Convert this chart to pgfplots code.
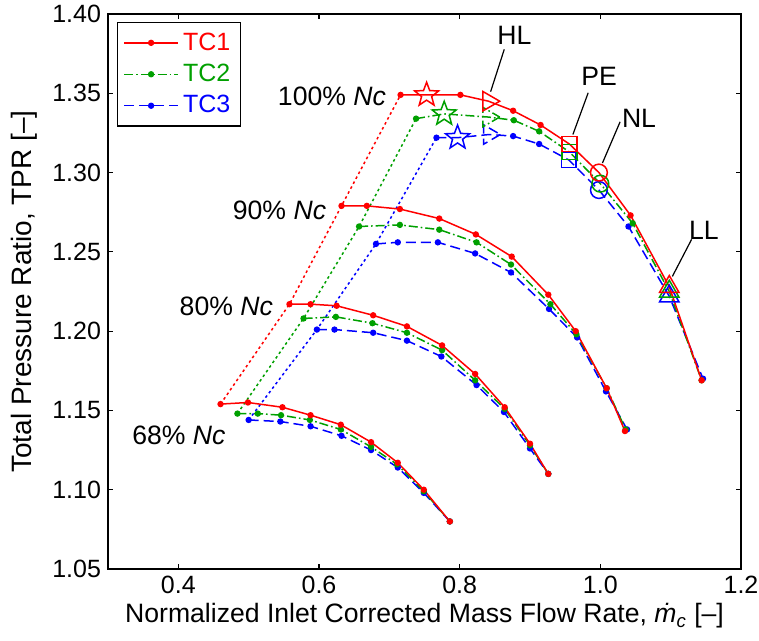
\documentclass[border=0pt]{standalone}
\usepackage{fontspec}
\setmainfont{Liberation Sans}
\usepackage{pgfplots}
\pgfplotsset{compat=1.18}
\usetikzlibrary{calc}
\definecolor{tcr}{RGB}{255,0,0}
\definecolor{tcg}{RGB}{0,160,0}
\definecolor{tcb}{RGB}{0,0,255}

\pgfdeclareplotmark{pstar}{%
  \pgfpathmoveto{\pgfpointpolar{90}{\pgfplotmarksize}}%
  \pgfpathlineto{\pgfpointpolar{126}{0.42\pgfplotmarksize}}%
  \pgfpathlineto{\pgfpointpolar{162}{\pgfplotmarksize}}%
  \pgfpathlineto{\pgfpointpolar{198}{0.42\pgfplotmarksize}}%
  \pgfpathlineto{\pgfpointpolar{234}{\pgfplotmarksize}}%
  \pgfpathlineto{\pgfpointpolar{270}{0.42\pgfplotmarksize}}%
  \pgfpathlineto{\pgfpointpolar{306}{\pgfplotmarksize}}%
  \pgfpathlineto{\pgfpointpolar{342}{0.42\pgfplotmarksize}}%
  \pgfpathlineto{\pgfpointpolar{18}{\pgfplotmarksize}}%
  \pgfpathlineto{\pgfpointpolar{54}{0.42\pgfplotmarksize}}%
  \pgfpathclose\pgfusepathqstroke}

\pgfplotsset{
  tc1/.style={color=tcr, line width=0.75pt, solid},
  tc2/.style={color=tcg, line width=0.75pt, dash pattern=on 4.5pt off 1.5pt on 0.8pt off 1.5pt},
  tc3/.style={color=tcb, line width=0.75pt, dash pattern=on 5pt off 2.5pt},
  ln/.style={no markers, forget plot},
  dots/.style={only marks, mark=*, mark size=1.2pt, mark options={solid}, forget plot},
  surge/.style={no markers, line width=0.75pt, dash pattern=on 1.3pt off 1.5pt, forget plot},
  spec/.style={only marks, mark options={solid, line width=0.75pt, fill=none}, forget plot},
}

\begin{document}
\begin{tikzpicture}
\begin{axis}[
  scale only axis, width=316.5pt, height=277.5pt,
  xmin=0.3, xmax=1.2, ymin=1.05, ymax=1.40,
  xtick={0.4,0.6,0.8,1.0,1.2},
  ytick={1.05,1.10,1.15,1.20,1.25,1.30,1.35,1.40},
  xticklabel style={/pgf/number format/.cd, fixed, fixed zerofill, precision=1, assume math mode=true},
  yticklabel style={/pgf/number format/.cd, fixed, fixed zerofill, precision=2, assume math mode=true},
  tick align=inside, major tick length=2.5pt,
  axis line style={line width=0.8pt},
  every tick/.style={black, line width=0.6pt},
  ticklabel style={font=\fontsize{12.5}{14}\selectfont},
  xlabel={Normalized Inlet Corrected Mass Flow Rate, \textit{\.{m}}\textsubscript{\textit{c}} [--]},
  ylabel={Total Pressure Ratio, TPR [--]},
  xlabel style={font=\fontsize{13.3}{15}\selectfont, yshift=2pt},
  ylabel style={font=\fontsize{14}{16}\selectfont, yshift=0.5pt},
  legend style={at={(axis description cs:0,1)}, anchor=north west, xshift=4.5pt, yshift=-4pt,
    font=\fontsize{12.5}{14}\selectfont, draw=black, line width=0.6pt, row sep=1.5pt, inner sep=3pt},
  legend cell align=left,
  legend image code/.code={\draw[mark repeat=2,mark phase=2] plot coordinates {(0cm,0cm) (0.47cm,0cm) (0.95cm,0cm)};},
]
\addlegendimage{tc1, mark=*, mark size=1.2pt, mark options={solid}}
\addlegendentry{\textcolor{tcr}{TC1}}
\addlegendimage{tc2, mark=*, mark size=1.2pt, mark options={solid}}
\addlegendentry{\textcolor{tcg}{TC2}}
\addlegendimage{tc3, mark=*, mark size=1.2pt, mark options={solid}}
\addlegendentry{\textcolor{tcb}{TC3}}

% ---------- TC3 ----------
\addplot[surge, tcb] coordinates {(0.500,1.144)(0.597,1.201)(0.681,1.255)(0.767,1.322)};
\addplot[tc3, ln] coordinates {(0.500,1.144)(0.545,1.143)(0.588,1.140)(0.632,1.134)(0.674,1.125)(0.712,1.114)(0.749,1.098)(0.786,1.080)};
\addplot[tc3, dots] coordinates {(0.500,1.144)(0.545,1.143)(0.588,1.140)(0.632,1.134)(0.674,1.125)(0.712,1.114)(0.749,1.098)(0.786,1.080)};
\addplot[tc3, ln] coordinates {(0.597,1.201)(0.622,1.201)(0.677,1.199)(0.725,1.194)(0.774,1.184)(0.824,1.166)(0.863,1.149)(0.900,1.126)(0.926,1.110)};
\addplot[tc3, dots] coordinates {(0.597,1.201)(0.622,1.201)(0.677,1.199)(0.725,1.194)(0.774,1.184)(0.824,1.166)(0.863,1.149)(0.900,1.126)(0.926,1.110)};
\addplot[tc3, ln] coordinates {(0.681,1.255)(0.712,1.256)(0.769,1.256)(0.822,1.249)(0.873,1.237)(0.927,1.214)(0.967,1.196)(1.008,1.162)(1.038,1.138)};
\addplot[tc3, dots] coordinates {(0.681,1.255)(0.712,1.256)(0.769,1.256)(0.822,1.249)(0.873,1.237)(0.927,1.214)(0.967,1.196)(1.008,1.162)(1.038,1.138)};
\addplot[tc3, ln] coordinates {(0.767,1.322)(0.797,1.322)(0.842,1.324)(0.876,1.323)(0.913,1.318)(0.955,1.308)(0.998,1.289)(1.040,1.266)(1.098,1.222)(1.146,1.170)};
\addplot[tc3, dots] coordinates {(0.767,1.322)(0.876,1.323)(0.913,1.318)(1.040,1.266)(1.146,1.170)};
\addplot[tc3, spec, mark=pstar, mark size=6.3pt] coordinates {(0.797,1.322)};
\addplot[tc3, spec, mark=triangle, mark size=5.6pt, mark options={rotate=-90}] coordinates {(0.842,1.324)};
\addplot[tc3, spec, mark=square, mark size=3.7pt] coordinates {(0.955,1.308)};
\addplot[tc3, spec, mark=o, mark size=4.2pt] coordinates {(0.998,1.289)};
\addplot[tc3, spec, mark=triangle, mark size=5.6pt] coordinates {(1.098,1.222)};

% ---------- TC2 ----------
\addplot[surge, tcg] coordinates {(0.484,1.148)(0.578,1.208)(0.657,1.266)(0.738,1.334)};
\addplot[tc2, ln] coordinates {(0.484,1.148)(0.513,1.148)(0.546,1.147)(0.587,1.144)(0.631,1.138)(0.674,1.127)(0.711,1.116)(0.749,1.099)(0.786,1.080)};
\addplot[tc2, dots] coordinates {(0.484,1.148)(0.513,1.148)(0.546,1.147)(0.587,1.144)(0.631,1.138)(0.674,1.127)(0.711,1.116)(0.749,1.099)(0.786,1.080)};
\addplot[tc2, ln] coordinates {(0.578,1.208)(0.624,1.209)(0.676,1.205)(0.725,1.199)(0.775,1.188)(0.822,1.169)(0.864,1.151)(0.900,1.128)(0.926,1.110)};
\addplot[tc2, dots] coordinates {(0.578,1.208)(0.624,1.209)(0.676,1.205)(0.725,1.199)(0.775,1.188)(0.822,1.169)(0.864,1.151)(0.900,1.128)(0.926,1.110)};
\addplot[tc2, ln] coordinates {(0.657,1.266)(0.715,1.267)(0.771,1.264)(0.824,1.256)(0.873,1.242)(0.929,1.217)(0.966,1.198)(1.009,1.164)(1.036,1.138)};
\addplot[tc2, dots] coordinates {(0.657,1.266)(0.715,1.267)(0.771,1.264)(0.824,1.256)(0.873,1.242)(0.929,1.217)(0.966,1.198)(1.009,1.164)(1.036,1.138)};
\addplot[tc2, ln] coordinates {(0.738,1.334)(0.778,1.337)(0.841,1.335)(0.877,1.333)(0.913,1.326)(0.956,1.313)(1.000,1.293)(1.046,1.268)(1.098,1.225)(1.144,1.169)};
\addplot[tc2, dots] coordinates {(0.738,1.334)(0.877,1.333)(0.913,1.326)(1.046,1.268)(1.144,1.169)};
\addplot[tc2, spec, mark=pstar, mark size=6.3pt] coordinates {(0.778,1.337)};
\addplot[tc2, spec, mark=triangle, mark size=5.6pt, mark options={rotate=-90}] coordinates {(0.841,1.335)};
\addplot[tc2, spec, mark=square, mark size=3.7pt] coordinates {(0.956,1.313)};
\addplot[tc2, spec, mark=o, mark size=4.2pt] coordinates {(1.000,1.293)};
\addplot[tc2, spec, mark=triangle, mark size=5.6pt] coordinates {(1.098,1.225)};

% ---------- TC1 ----------
\addplot[surge, tcr] coordinates {(0.460,1.154)(0.558,1.217)(0.632,1.279)(0.716,1.349)};
\addplot[tc1, ln] coordinates {(0.460,1.154)(0.499,1.155)(0.548,1.152)(0.588,1.147)(0.631,1.141)(0.674,1.130)(0.712,1.117)(0.749,1.100)(0.786,1.080)};
\addplot[tc1, dots] coordinates {(0.460,1.154)(0.499,1.155)(0.548,1.152)(0.588,1.147)(0.631,1.141)(0.674,1.130)(0.712,1.117)(0.749,1.100)(0.786,1.080)};
\addplot[tc1, ln] coordinates {(0.558,1.217)(0.588,1.217)(0.625,1.216)(0.677,1.210)(0.725,1.203)(0.775,1.191)(0.822,1.173)(0.864,1.152)(0.900,1.129)(0.926,1.110)};
\addplot[tc1, dots] coordinates {(0.558,1.217)(0.588,1.217)(0.625,1.216)(0.677,1.210)(0.725,1.203)(0.775,1.191)(0.822,1.173)(0.864,1.152)(0.900,1.129)(0.926,1.110)};
\addplot[tc1, ln] coordinates {(0.632,1.279)(0.668,1.279)(0.715,1.277)(0.771,1.271)(0.823,1.261)(0.874,1.247)(0.926,1.223)(0.965,1.200)(1.009,1.164)(1.035,1.137)};
\addplot[tc1, dots] coordinates {(0.632,1.279)(0.668,1.279)(0.715,1.277)(0.771,1.271)(0.823,1.261)(0.874,1.247)(0.926,1.223)(0.965,1.200)(1.009,1.164)(1.035,1.137)};
\addplot[tc1, ln] coordinates {(0.716,1.349)(0.753,1.349)(0.801,1.349)(0.841,1.345)(0.876,1.339)(0.915,1.330)(0.956,1.318)(0.998,1.300)(1.043,1.273)(1.098,1.228)(1.144,1.169)};
\addplot[tc1, dots] coordinates {(0.716,1.349)(0.801,1.349)(0.876,1.339)(0.915,1.330)(1.043,1.273)(1.144,1.169)};
\addplot[tc1, spec, mark=pstar, mark size=6.3pt] coordinates {(0.753,1.349)};
\addplot[tc1, spec, mark=triangle, mark size=5.6pt, mark options={rotate=-90}] coordinates {(0.841,1.345)};
\addplot[tc1, spec, mark=square, mark size=3.7pt] coordinates {(0.956,1.318)};
\addplot[tc1, spec, mark=o, mark size=4.2pt] coordinates {(0.998,1.300)};
\addplot[tc1, spec, mark=triangle, mark size=5.6pt] coordinates {(1.098,1.228)};

% ---------- annotations ----------
\draw[black, line width=0.6pt] (axis cs:0.8634,1.3777) -- (axis cs:0.8440,1.3510);
\draw[black, line width=0.6pt] (axis cs:0.9827,1.3503) -- (axis cs:0.9610,1.3240);
\draw[black, line width=0.6pt] (axis cs:1.0281,1.3320) -- (axis cs:1.0030,1.3060);
\draw[black, line width=0.6pt] (axis cs:1.1298,1.2579) -- (axis cs:1.1024,1.2345);
\begin{scope}[every node/.style={font=\fontsize{13.3}{15}\selectfont, inner sep=0pt}]
\node at (axis cs:0.8777,1.3867) {HL};
\node at (axis cs:0.9983,1.3604) {PE};
\node at (axis cs:1.0550,1.3342) {NL};
\node at (axis cs:1.1472,1.2637) {LL};
\node[anchor=east] at (axis cs:0.6957,1.3478) {100\% \textit{Nc}};
\node[anchor=east] at (axis cs:0.6106,1.2764) {90\% \textit{Nc}};
\node[anchor=east] at (axis cs:0.5350,1.2154) {80\% \textit{Nc}};
\node[anchor=west] at (axis cs:0.334,1.1345) {68\% \textit{Nc}};
\end{scope}
\end{axis}
\pgfresetboundingbox
\path[use as bounding box] ($(current axis.south west)+(-54pt,-35.5pt)$) rectangle ($(current axis.north east)+(9pt,7pt)$);
\end{tikzpicture}
\end{document}
